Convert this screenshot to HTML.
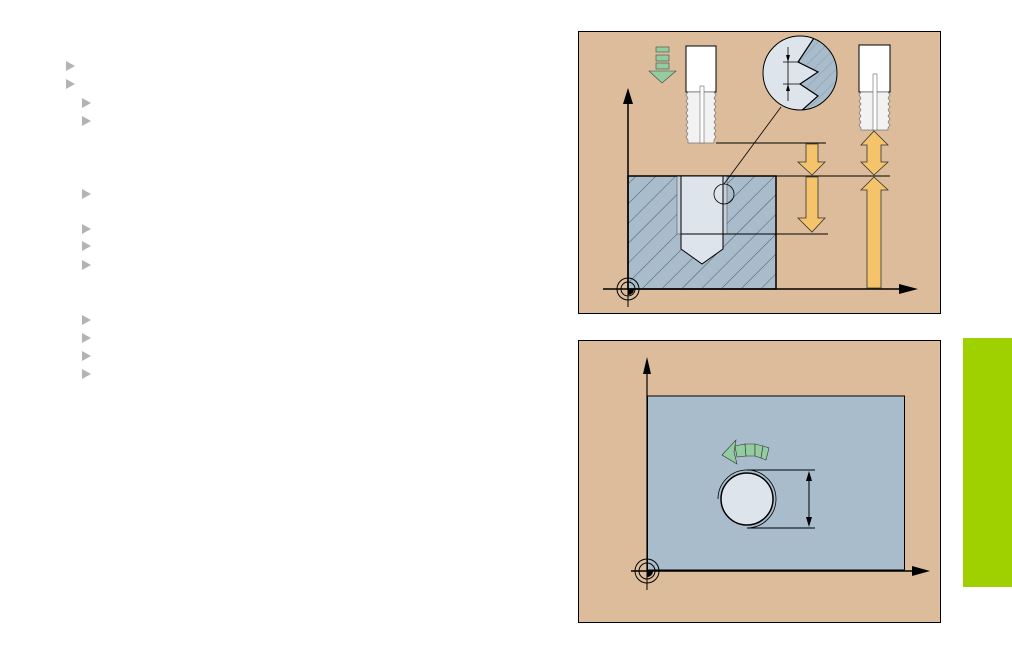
<!DOCTYPE html>
<html><head><meta charset="utf-8"><style>
html,body{margin:0;padding:0;background:#fff;}
svg{display:block}
</style></head><body>
<svg width="1012" height="655" viewBox="0 0 1012 655" xmlns="http://www.w3.org/2000/svg">
<defs>
<pattern id="h" patternUnits="userSpaceOnUse" width="14" height="14" patternTransform="rotate(45)">
<rect width="14" height="14" fill="#a9bccb"/><line x1="0" y1="0" x2="0" y2="14" stroke="#33414d" stroke-width="0.8"/>
</pattern>
<pattern id="h2" patternUnits="userSpaceOnUse" width="8" height="8" patternTransform="rotate(45)">
<rect width="8" height="8" fill="#a9bccb"/><line x1="0" y1="0" x2="0" y2="8" stroke="#7f93a3" stroke-width="0.8"/>
</pattern>
<clipPath id="mc"><circle cx="800" cy="73" r="37"/></clipPath>
</defs>
<g fill="#b3b3b3">
<polygon points="66,61 75,66 66,71"/><polygon points="66,79 75,84 66,89"/>
<polygon points="82,98 91,103 82,108"/><polygon points="82,116 91,121 82,126"/>
<polygon points="82,189 91,194 82,199"/><polygon points="82,224 91,229 82,234"/>
<polygon points="82,241 91,246 82,251"/><polygon points="82,260 91,265 82,270"/>
<polygon points="82,315 91,320 82,325"/><polygon points="82,333 91,338 82,343"/>
<polygon points="82,351 91,356 82,361"/><polygon points="82,369 91,374 82,379"/>
</g>
<rect x="963" y="338" width="49" height="249" fill="#9fd000"/>

<!-- top panel -->
<rect x="578.5" y="31.5" width="362" height="282" fill="#dcbc9a" stroke="#000"/>
<rect x="628" y="176" width="148" height="113" fill="url(#h)" stroke="#000" stroke-width="1.5"/>
<rect x="677" y="176" width="50" height="58" fill="#c5d2dc" stroke="#555" stroke-width="0.6"/>
<polygon points="681,176 723,176 723,249 702,264 681,249" fill="#dde4ec" stroke="#000" stroke-width="1"/>
<line x1="681" y1="234" x2="828" y2="234" stroke="#000"/>
<line x1="628" y1="176" x2="890" y2="176" stroke="#000"/>
<line x1="716" y1="143" x2="826" y2="143" stroke="#000"/>
<line x1="628" y1="289" x2="628" y2="96" stroke="#000" stroke-width="1.5"/>
<polygon points="628,88 623,104 633,104" fill="#000"/>
<line x1="603" y1="289" x2="905" y2="289" stroke="#000" stroke-width="1.5"/>
<polygon points="918,289 899,284 899,294" fill="#000"/>
<circle cx="628" cy="289" r="11" fill="none" stroke="#000"/><circle cx="628" cy="289" r="7" fill="none" stroke="#000"/>
<line x1="628" y1="275" x2="628" y2="307" stroke="#000"/>
<path d="M628,289 L634,289 A6,6 0 0 1 628,295 Z" fill="#000"/>
<!-- tool 1 -->
<rect x="686" y="46" width="30" height="46" fill="#fff" stroke="#000"/>
<path d="M688,92 L714,92 L716,95 L714,98 L716,101 L714,104 L716,107 L714,110 L716,113 L714,116 L716,119 L714,122 L716,125 L714,128 L716,131 L714,134 L716,137 L714,140 L714,143 L688,143 L688,140 L686,137 L688,134 L686,131 L688,128 L686,125 L688,122 L686,119 L688,116 L686,113 L688,110 L686,107 L688,104 L686,101 L688,98 L686,95 Z" fill="#f2f2f2" stroke="#777" stroke-width="0.7"/>
<rect x="700" y="86" width="4" height="57" fill="#fff" stroke="#666" stroke-width="0.6"/>
<!-- tool 2 -->
<rect x="859" y="45" width="31" height="47" fill="#fff" stroke="#000"/>
<path d="M861,92 L888,92 L890,95 L888,98 L890,101 L888,104 L890,107 L888,110 L890,113 L888,116 L890,119 L888,122 L890,125 L888,128 L888,130 L861,130 L861,128 L859,125 L861,122 L859,119 L861,116 L859,113 L861,110 L859,107 L861,104 L859,101 L861,98 L859,95 Z" fill="#f2f2f2" stroke="#777" stroke-width="0.7"/>
<rect x="873" y="74" width="4" height="56" fill="#fff" stroke="#666" stroke-width="0.6"/>
<!-- orange arrows -->
<g fill="#f5c46a" stroke="#333" stroke-width="0.8">
<polygon points="806,144 818,144 818,162 825,162 812,175 798,162 806,162"/>
<polygon points="806,177 818,177 818,218 825,218 812,232 798,218 806,218"/>
<polygon points="874,131 888,145 881,145 881,162 888,162 874,175 861,162 867,162 867,145 861,145"/>
<polygon points="874,177 888,190 881,190 881,288 867,288 867,190 861,190"/>
</g>
<!-- green arrow -->
<g fill="#93cca0" stroke="#444" stroke-width="0.6">
<rect x="656" y="47" width="13" height="5"/><rect x="656" y="55" width="13" height="6"/><rect x="656" y="63" width="13" height="6"/>
<polygon points="649,71 676,71 662,83"/>
</g>
<!-- magnifier -->
<line x1="724" y1="184" x2="781" y2="107" stroke="#000" stroke-width="0.8"/>
<circle cx="724" cy="194" r="10" fill="none" stroke="#000" stroke-width="0.8"/>
<circle cx="800" cy="73" r="37" fill="#dde4ec"/>
<path d="M806,34 L814,38 L798,62 L818,72 L800,84 L818,96 L800,112 L860,112 L860,34 Z" fill="url(#h2)" stroke="#000" stroke-width="1.2" clip-path="url(#mc)"/>
<circle cx="800" cy="73" r="37" fill="none" stroke="#000"/>
<line x1="788" y1="47" x2="788" y2="101" stroke="#000" stroke-width="0.8"/>
<line x1="783" y1="62" x2="800" y2="62" stroke="#000" stroke-width="0.8"/>
<line x1="783" y1="84" x2="800" y2="84" stroke="#000" stroke-width="0.8"/>
<polygon points="788,62 786,55 790,55"/><polygon points="788,84 786,91 790,91"/>

<!-- bottom panel -->
<rect x="578.5" y="340.5" width="362" height="282" fill="#dcbc9a" stroke="#000"/>
<rect x="647.5" y="396" width="257" height="174" fill="#a9bccb" stroke="#000"/>
<line x1="647" y1="571" x2="647" y2="365" stroke="#000" stroke-width="1.2"/>
<polygon points="647,357 643,374 651,374" fill="#000"/>
<line x1="631" y1="571" x2="918" y2="571" stroke="#000" stroke-width="1.5"/>
<polygon points="930,571 912,566 912,576" fill="#000"/>
<circle cx="647" cy="571" r="12" fill="none" stroke="#000"/><circle cx="647" cy="571" r="8" fill="none" stroke="#000"/>
<line x1="647" y1="571" x2="647" y2="590" stroke="#000"/>
<path d="M647,571 L653,571 A6,6 0 0 1 647,577 Z" fill="#000"/>
<circle cx="747" cy="499" r="26" fill="#dde4ec" stroke="#000" stroke-width="1.5"/>
<path d="M718,499 A29,29 0 1 1 748,528" fill="none" stroke="#000" stroke-width="0.8"/>
<line x1="747" y1="470" x2="815" y2="470" stroke="#000"/>
<line x1="747" y1="528" x2="815" y2="528" stroke="#000"/>
<line x1="809" y1="474" x2="809" y2="524" stroke="#000"/>
<polygon points="809,471 806,481 812,481"/><polygon points="809,527 806,517 812,517"/>
<g fill="#93cca0" stroke="#333" stroke-width="0.6">
<polygon points="722,455 736,440 734,452 737,464"/>
<polygon points="735,446 745,444 746,456 737,457"/>
<polygon points="745,444 755,444 755,456 746,456"/>
<polygon points="755,444 763,446 761,458 755,456"/>
<polygon points="763,446 769,448 766,460 761,458"/>
</g>
</svg>
</body></html>
